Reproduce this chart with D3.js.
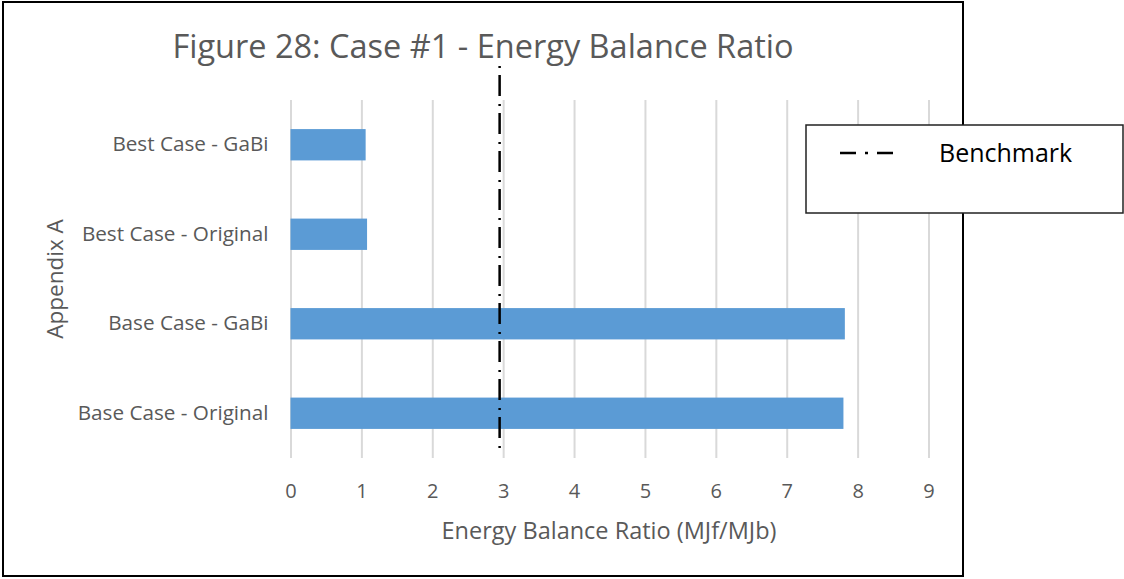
<!DOCTYPE html>
<html>
<head>
<meta charset="utf-8">
<script src="https://cdn.jsdelivr.net/npm/d3@7"></script>
<style>
    body { margin: 0; background: #fff; }
    svg text { font-family: "Open Sans", "Liberation Sans", sans-serif; }
</style>
</head>
<body>
<svg class="chart" width="1124" height="579"></svg>
<script>
// data
const categories = ["Best Case - GaBi", "Best Case - Original", "Base Case - GaBi", "Base Case - Original"];
const ratios = [1.06, 1.08, 7.82, 7.80];
const benchmark = 2.95;
const xTicks = [0, 1, 2, 3, 4, 5, 6, 7, 8, 9];

const titleText = "Figure 28: Case #1 - Energy Balance Ratio";
const xTitle = "Energy Balance Ratio (MJf/MJb)";
const yTitle = "Appendix A";
const legendLabel = "Benchmark";

// config
const grey = "#595959";
const barColor = "#5B9BD5";
const plot = { left: 290.5, right: 928.5, top: 100, bottom: 458 };
const dash = "2,7,21,8";

const svg = d3.select("svg.chart");

function translate(x, y) {
    return `translate(${x}, ${y})`;
}

// outer frame
svg.append("rect")
    .attr("x", 3).attr("y", 2)
    .attr("width", 960).attr("height", 574)
    .attr("fill", "#fff")
    .attr("stroke", "#000")
    .attr("stroke-width", 2);

const x = d3.scaleLinear()
    .domain([0, 9])
    .range([plot.left, plot.right]);

const y = d3.scaleBand()
    .domain(categories)
    .range([plot.top, plot.bottom])
    .paddingInner(0.65)
    .paddingOuter(0.325);

// vertical grid + tick labels
const xAxis = d3.axisBottom(x)
    .tickValues(xTicks)
    .tickSize(-(plot.bottom - plot.top))
    .tickPadding(0)
    .tickFormat(d3.format("d"));

const gX = svg.append("g")
    .attr("class", "x-axis")
    .attr("transform", translate(0, plot.bottom))
    .call(xAxis);

gX.select(".domain").remove();
gX.selectAll(".tick line")
    .attr("stroke", "#d9d9d9")
    .attr("stroke-width", 2);
gX.selectAll(".tick text")
    .attr("y", 40)
    .attr("dy", 0)
    .attr("fill", grey)
    .style("font-size", "20px");

// bars
svg.append("g")
    .attr("class", "bars")
    .selectAll("rect")
    .data(categories)
    .join("rect")
    .attr("x", x(0))
    .attr("y", c => y(c))
    .attr("height", y.bandwidth())
    .attr("width", (c, i) => x(ratios[i]) - x(0))
    .attr("fill", barColor);

// category labels
const yAxis = d3.axisLeft(y).tickSize(0).tickPadding(22);
const gY = svg.append("g")
    .attr("class", "y-axis")
    .attr("transform", translate(plot.left, 0))
    .call(yAxis);
gY.select(".domain").remove();
gY.selectAll(".tick text")
    .attr("fill", grey)
    .style("font-size", "20.7px");

// benchmark line
svg.append("line")
    .attr("x1", x(benchmark)).attr("x2", x(benchmark))
    .attr("y1", 66).attr("y2", plot.bottom - 3)
    .attr("stroke", "#000")
    .attr("stroke-width", 2.5)
    .attr("stroke-dasharray", dash);

// title
svg.append("text")
    .attr("x", 483)
    .attr("y", 58)
    .attr("text-anchor", "middle")
    .attr("fill", grey)
    .style("font-size", "32.5px")
    .text(titleText);

// axis titles
svg.append("text")
    .attr("x", 609)
    .attr("y", 539)
    .attr("text-anchor", "middle")
    .attr("fill", grey)
    .style("font-size", "23.5px")
    .text(xTitle);

svg.append("text")
    .attr("transform", translate(63, 279) + " rotate(-90)")
    .attr("text-anchor", "middle")
    .attr("fill", grey)
    .style("font-size", "22.5px")
    .text(yTitle);

// legend
const legend = svg.append("g").attr("class", "legend");
legend.append("rect")
    .attr("x", 806).attr("y", 125)
    .attr("width", 317).attr("height", 88)
    .attr("fill", "#fff")
    .attr("stroke", "#222")
    .attr("stroke-width", 1.5);
legend.append("line")
    .attr("x1", 840).attr("x2", 895)
    .attr("y1", 153).attr("y2", 153)
    .attr("stroke", "#000")
    .attr("stroke-width", 2.5)
    .attr("stroke-dasharray", "16,9,3,9,16");
legend.append("text")
    .attr("x", 939)
    .attr("y", 162)
    .attr("fill", "#000")
    .style("font-size", "25px")
    .text(legendLabel);
</script>
</body>
</html>
